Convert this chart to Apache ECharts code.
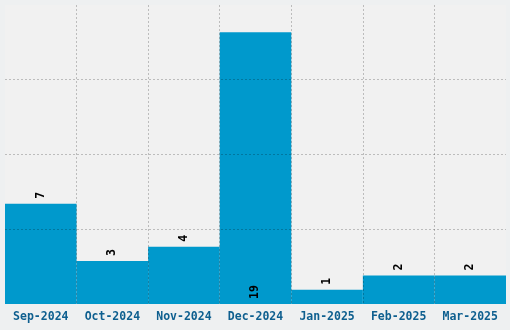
<!DOCTYPE html>
<html><head><meta charset="utf-8">
<style>html,body{margin:0;padding:0;background:#eef0f1;}#c{width:510px;height:330px;}</style>
<script src="https://cdn.jsdelivr.net/npm/echarts@6/dist/echarts.min.js"></script>
</head><body><div id="c"></div>
<script>
var categories = ['Sep-2024','Oct-2024','Nov-2024','Dec-2024','Jan-2025','Feb-2025','Mar-2025'];
var values = [7, 3, 4, 19, 1, 2, 2];
var insideLabel = [false, false, false, true, false, false, false];

var chart = echarts.init(document.getElementById('c'));
var mono = '"DejaVu Sans Mono", "Liberation Mono", monospace';
var yMax = 20.9;
var gridLine = {color: 'rgba(0,0,0,0.22)', type: [2, 2], width: 1};
chart.setOption({
  backgroundColor: '#eef0f1',
  animation: false,
  grid: {left: 5, right: 4, top: 5, bottom: 26, containLabel: false, show: true, backgroundColor: '#f1f1f1', borderWidth: 0},
  xAxis: {
    type: 'category', data: categories, z: 10,
    axisLine: {show: false}, axisTick: {show: false},
    axisLabel: {interval: 0, color: '#0e5f8f', fontFamily: mono, fontWeight: 'bold', fontSize: 11.5, margin: 7},
    splitLine: {show: true, interval: 0, showMinLine: false, showMaxLine: false, lineStyle: gridLine}
  },
  yAxis: {
    type: 'value', min: 0, max: yMax, interval: yMax / 4, z: 10,
    axisLine: {show: false}, axisTick: {show: false}, axisLabel: {show: false},
    splitLine: {show: true, showMinLine: false, showMaxLine: false, lineStyle: gridLine}
  },
  series: [{
    type: 'bar', barCategoryGap: '0%', z: 2,
    itemStyle: {color: '#0099cc'},
    data: values.map(function (v, i) {
      return {
        value: v,
        label: {
          show: true, rotate: 90,
          position: insideLabel[i] ? 'insideBottom' : 'top',
          align: 'left',
          verticalAlign: 'middle',
          distance: 5,
          color: '#000', fontFamily: mono, fontWeight: 'bold', fontSize: 11.5
        }
      };
    })
  }]
});
</script></body></html>
